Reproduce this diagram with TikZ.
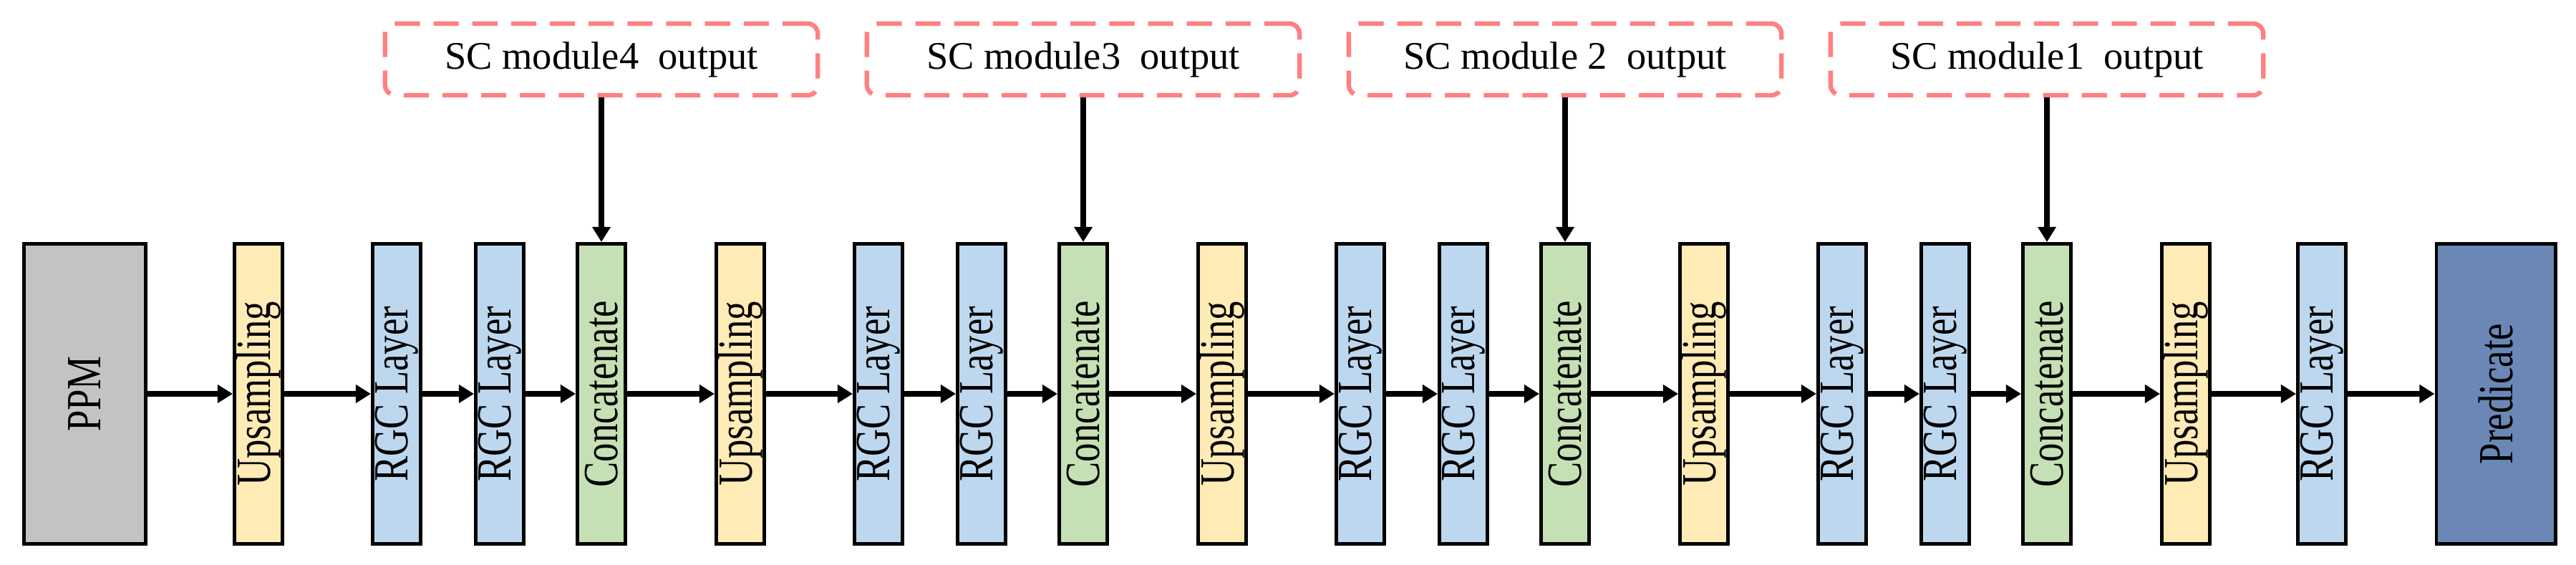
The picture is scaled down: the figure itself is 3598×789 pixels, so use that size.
\documentclass[tikz,border=0pt]{standalone}
\usepackage{fontspec}
\setmainfont{Liberation Serif}
\usetikzlibrary{arrows.meta}
\definecolor{cgray}{HTML}{C4C3C1}
\definecolor{cyel}{HTML}{FFEBB5}
\definecolor{cblue}{HTML}{BDD7EE}
\definecolor{cgreen}{HTML}{C5E0B4}
\definecolor{cpred}{HTML}{6B87B5}
\definecolor{cdash}{HTML}{FF8080}
\newcommand{\vt}[1]{\scalebox{1}[1.3]{#1}}
\begin{document}
\begin{tikzpicture}[x=0.01cm,y=-0.01cm,
  blk/.style={draw=black,line width=1.4pt,rotate=90,minimum width=4.19cm,minimum height=0.67cm,inner sep=0pt,font=\fontsize{15}{17}\selectfont},
  up/.style={blk,fill=cyel},
  rgc/.style={blk,fill=cblue},
  cat/.style={blk,fill=cgreen},
  sc/.style={draw=cdash,line width=1.8pt,dash pattern=on 10pt off 5.4pt,rounded corners=4pt,minimum width=6.04cm,minimum height=1.0cm,font=\fontsize{15.5}{17}\selectfont},
  arr/.style={-{Triangle[length=6pt,width=7pt]},line width=2.2pt}]
\useasboundingbox (0,0) rectangle (3598,789);
\node[blk,fill=cgray,minimum height=1.69cm] (ppm) at (118.5,550) {\vt{PPM}};
\foreach \k in {0,1,2,3}{
  \pgfmathsetmacro\ox{673*\k}
  \node[up] (u\k) at (361+\ox,550) {\vt{Upsampling}};
  \node[rgc] (ra\k) at (554+\ox,550) {\vt{RGC Layer}};
  \node[rgc] (rb\k) at (698+\ox,550) {\vt{RGC Layer}};
  \node[cat] (c\k) at (840+\ox,550) {\vt{Concatenate}};
}
\node[sc] (s0) at (840,83) {SC module4\ \ output};
\node[sc] (s1) at (1513,83) {SC module3\ \ output};
\node[sc] (s2) at (2186,83) {SC module 2\ \ output};
\node[sc] (s3) at (2859,83) {SC module1\ \ output};
\node[up] (u4) at (3053,550) {\vt{Upsampling}};
\node[rgc] (r4) at (3243,550) {\vt{RGC Layer}};
\node[blk,fill=cpred,minimum height=1.66cm] (pred) at (3486,550) {\vt{Predicate}};
\draw[arr] (ppm) -- (u0);
\foreach \k in {0,1,2,3}{
  \draw[arr] (u\k) -- (ra\k);
  \draw[arr] (ra\k) -- (rb\k);
  \draw[arr] (rb\k) -- (c\k);
  \draw[arr] (s\k) -- (c\k);
}
\draw[arr] (c0) -- (u1);
\draw[arr] (c1) -- (u2);
\draw[arr] (c2) -- (u3);
\draw[arr] (c3) -- (u4);
\draw[arr] (u4) -- (r4);
\draw[arr] (r4) -- (pred);
\end{tikzpicture}
\end{document}
